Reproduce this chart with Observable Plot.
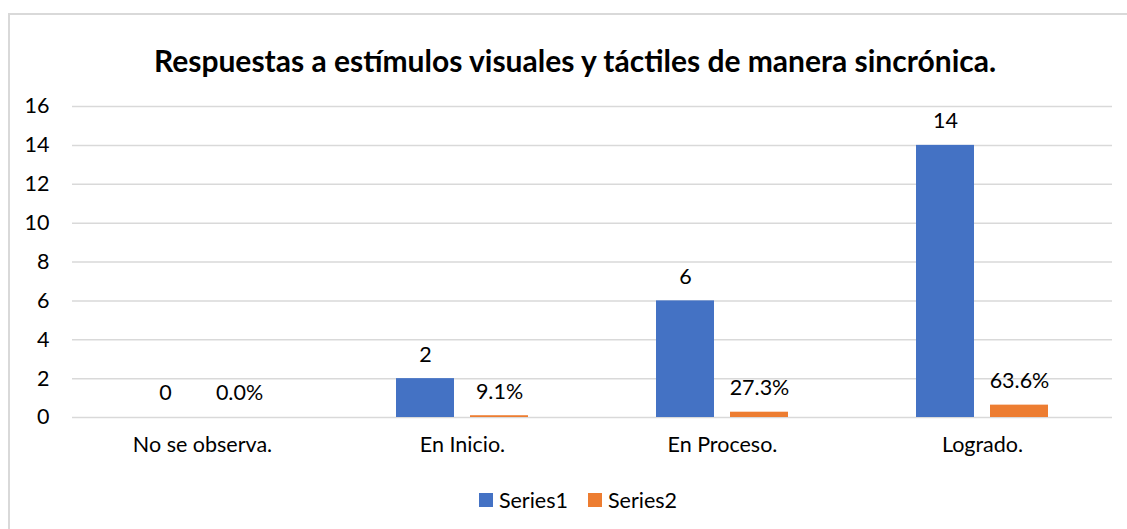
<!DOCTYPE html>
<html>
<head>
<meta charset="utf-8">
<script src="https://cdn.jsdelivr.net/npm/d3@7"></script>
<script src="https://cdn.jsdelivr.net/npm/@observablehq/plot@0.6"></script>
<style>
  html, body { margin: 0; padding: 0; background: #fff; }
  #wrap { position: relative; width: 1127px; height: 529px; overflow: hidden; font-family: Lato, "Liberation Sans", sans-serif; }
  #frame { position: absolute; left: 8px; top: 13px; width: 1200px; height: 600px; border-left: 2px solid #d9d9d9; border-top: 2px solid #d9d9d9; }
  #title { position: absolute; left: 0; width: 1150px; top: 42px; text-align: center; font-weight: bold; font-size: 30px; color: #000; line-height: 36px; }
  #chart { position: absolute; left: 0; top: 90px; }
  #legend { position: absolute; left: 0; width: 1156px; top: 486px; text-align: center; font-size: 21.5px; color: #000; }
  #legend span.item { display: inline-flex; align-items: center; margin: 0 10px; }
  #legend span.sw { display: inline-block; width: 14px; height: 14px; margin-right: 6px; }
</style>
</head>
<body>
<div id="wrap">
  <div id="frame"></div>
  <div id="title">Respuestas a estímulos visuales y táctiles de manera sincrónica.</div>
  <div id="chart"></div>
  <div id="legend"></div>
</div>
<script>
const categories = ["No se observa.", "En Inicio.", "En Proceso.", "Logrado."];
const seriesNames = ["Series1", "Series2"];
const series1 = [0, 2, 6, 14];
const series2 = [0.0, 0.091, 0.273, 0.636];
const series1Labels = ["0", "2", "6", "14"];
const series2Labels = ["0.0%", "9.1%", "27.3%", "63.6%"];
const yTicks = [0, 2, 4, 6, 8, 10, 12, 14, 16];
const colors = ["#4472C4", "#ED7D31"];

const rows = [];
categories.forEach((c, i) => {
  rows.push({category: c, series: seriesNames[0], value: series1[i], label: series1Labels[i]});
  rows.push({category: c, series: seriesNames[1], value: series2[i], label: series2Labels[i]});
});

const chart = Plot.plot({
  width: 1127,
  height: 377,
  marginLeft: 72,
  marginRight: 15,
  marginTop: 16,
  marginBottom: 50,
  style: {fontFamily: "Lato, 'Liberation Sans', sans-serif", fontSize: "21.5px", color: "#000", background: "transparent"},
  fx: {domain: categories, padding: 0, axis: "bottom", tickSize: 0, tickPadding: 19, label: null},
  x: {domain: seriesNames, paddingInner: 0.215, paddingOuter: 0.853, axis: null},
  y: {domain: [0, 16], ticks: yTicks, tickSize: 0, tickPadding: 23, label: null, tickFormat: d => String(d)},
  color: {domain: seriesNames, range: colors},
  marks: [
    Plot.ruleY(yTicks, {stroke: "#d9d9d9", strokeWidth: 1.5}),
    Plot.barY(rows, {fx: "category", x: "series", y: "value", fill: "series"}),
    Plot.text(rows, {fx: "category", x: "series", y: "value", text: "label", dy: -24, fill: "#000", fontSize: 21.5})
  ]
});
document.getElementById("chart").appendChild(chart);

const legend = document.getElementById("legend");
seriesNames.forEach((s, i) => {
  const item = document.createElement("span");
  item.className = "item";
  const sw = document.createElement("span");
  sw.className = "sw";
  sw.style.background = colors[i];
  item.appendChild(sw);
  item.appendChild(document.createTextNode(s));
  legend.appendChild(item);
});
</script>
</body>
</html>
